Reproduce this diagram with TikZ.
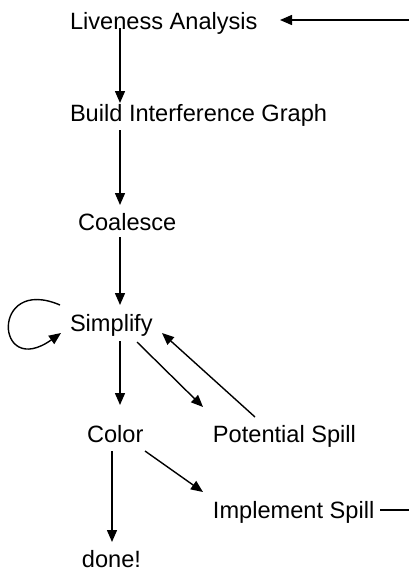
\documentclass[tikz,border=0pt]{standalone}
\usepackage{fontspec}
\setmainfont{Liberation Sans}
\usetikzlibrary{arrows.meta}

\tikzset{
  step name/.style={anchor=base west,inner sep=0pt,outer sep=0pt,
    font=\fontsize{11.8}{14}\selectfont},
  flow/.style={line width=0.7pt,-{Triangle[length=6pt,width=5pt]}},
  plain/.style={line width=0.7pt}
}

\begin{document}
\begin{tikzpicture}[x=0.5pt,y=0.5pt]
  \useasboundingbox (0,0) rectangle (409,-569);

  % the passes
  \node[step name] (live)  at (70,-29)  {Liveness Analysis};
  \node[step name] (build) at (70,-121) {Build Interference Graph};
  \node[step name] (coal)  at (78,-230) {Coalesce};
  \node[step name] (simp)  at (70,-331) {Simplify};
  \node[step name] (color) at (87,-442) {Color};
  \node[step name] (pot)   at (213,-442) {Potential Spill};
  \node[step name] (impl)  at (213,-518) {Implement Spill};
  \node[step name] (done)  at (82,-567) {done!};

  % loose ends of the spill loop
  \coordinate (back) at (409,-20);
  \coordinate (out)  at (409,-510);

  % main line down
  \draw[flow] ([shift={(50,1)}]live.base west)   -- ([shift={(50,18)}]build.base west);
  \draw[flow] ([shift={(50,-9)}]build.base west) -- ([shift={(42,25)}]coal.base west);
  \draw[flow] ([shift={(42,-7)}]coal.base west)  -- ([shift={(50,26)}]simp.base west);
  \draw[flow] ([shift={(50,-10)}]simp.base west) -- ([shift={(33,37)}]color.base west);
  \draw[flow] ([shift={(25,-9)}]color.base west) -- ([shift={(30,25)}]done.base west);

  % simplify again
  \draw[flow] ([shift={(-10,26)}]simp.base west)
    .. controls (-10,-275) and (-5,-380) .. ([shift={(-9,-2)}]simp.base west);

  % spilling
  \draw[flow] ([shift={(67,-11)}]simp.base west)  -- ([shift={(-10,35)}]pot.base west);
  \draw[flow] ([shift={(42,25)}]pot.base west)    -- ([shift={(92,-2)}]simp.base west);
  \draw[flow] ([shift={(58,-9)}]color.base west)  -- ([shift={(-10,26)}]impl.base west);
  \draw[plain] ([shift={(167,8)}]impl.base west)  -- (out);
  \draw[flow] (back) -- ([shift={(210,9)}]live.base west);
\end{tikzpicture}
\end{document}
